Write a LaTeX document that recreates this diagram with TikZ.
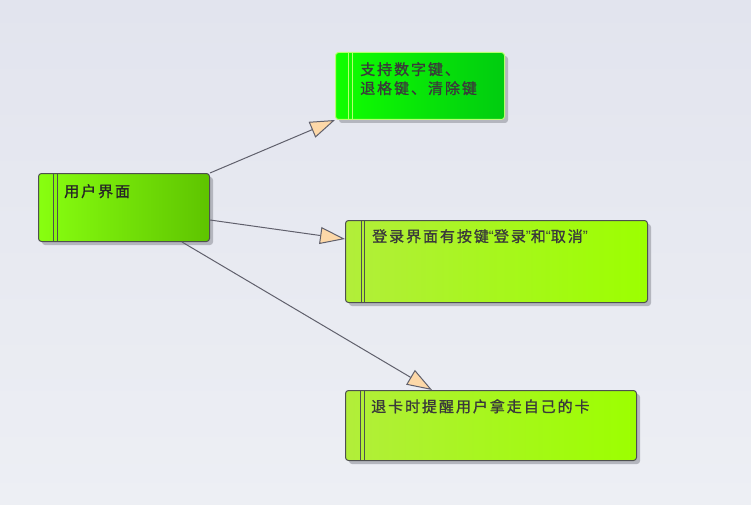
\documentclass[tikz,border=0pt]{standalone}
\usepackage{fontspec}
\newfontfamily\cjk[LetterSpace=13,FakeBold=1.2]{Noto Sans CJK SC}
\newfontfamily\latq[LetterSpace=20]{Liberation Sans}
\newcommand{\myLq}{{\latq “}}
\newcommand{\myRq}{{\latq ”}}
\usetikzlibrary{arrows.meta,shadows,calc}
\definecolor{bgtop}{HTML}{E2E4EE}
\definecolor{bgbot}{HTML}{EDEFF4}
\definecolor{aleft}{HTML}{88FF10}
\definecolor{aright}{HTML}{5EC400}
\definecolor{bleft}{HTML}{10FF00}
\definecolor{bright}{HTML}{00CC10}
\definecolor{bline}{HTML}{B8FF70}
\definecolor{cleft}{HTML}{B2EE3A}
\definecolor{cright}{HTML}{9CFF00}
\definecolor{edge}{HTML}{4E5050}
\definecolor{conncol}{HTML}{60606C}
\definecolor{peach}{HTML}{FDD8A8}
\definecolor{txt}{HTML}{3A3A3A}
\definecolor{shadowcol}{HTML}{B4B6BE}
\tikzset{
  box/.style={rectangle, rounded corners=3pt, line width=1pt, anchor=north west,
    drop shadow={shadow xshift=3.5pt, shadow yshift=-3.5pt, fill=shadowcol, opacity=1}},
  boxA/.style={box, draw=edge, left color=aleft, right color=aright},
  boxB/.style={box, draw=bline, left color=bleft, right color=bright},
  boxC/.style={box, draw=edge, left color=cleft, right color=cright},
  dline/.style={line width=1pt, draw=edge},
  dlineB/.style={line width=1pt, draw=bline},
  lbl/.style={anchor=north west, inner sep=0pt, font=\cjk\fontsize{15pt}{19pt}\selectfont, text=txt, align=left},
  conn/.style={draw=conncol, line width=1pt,
    -{Triangle[length=25pt,width=17pt,fill=peach,line width=1pt]}}
}
\begin{document}
\begin{tikzpicture}[x=1pt,y=-1pt]
\shade[top color=bgtop,bottom color=bgbot] (0,0) rectangle (751,505);
\useasboundingbox (0,0) rectangle (751,505);

\node[boxA, minimum width=171pt, minimum height=68pt] (a) at (38,173) {};
\node[boxB, minimum width=169pt, minimum height=67pt] (b) at (335,52) {};
\node[boxC, minimum width=302pt, minimum height=82pt] (c) at (345,220) {};
\node[boxC, minimum width=291pt, minimum height=70pt] (d) at (345,390) {};

\draw[dline] ($(a.north west)+(15,0)$) -- ($(a.south west)+(15,0)$);
\draw[dline] ($(a.north west)+(19,0)$) -- ($(a.south west)+(19,0)$);
\draw[dlineB] ($(b.north west)+(13.5,0)$) -- ($(b.south west)+(13.5,0)$);
\draw[dlineB] ($(b.north west)+(17.5,0)$) -- ($(b.south west)+(17.5,0)$);
\draw[dline] ($(c.north west)+(16,0)$) -- ($(c.south west)+(16,0)$);
\draw[dline] ($(c.north west)+(19.5,0)$) -- ($(c.south west)+(19.5,0)$);
\draw[dline] ($(d.north west)+(15.5,0)$) -- ($(d.south west)+(15.5,0)$);
\draw[dline] ($(d.north west)+(19.5,0)$) -- ($(d.south west)+(19.5,0)$);

\node[lbl, text=black!85] (ta) at ($(a.north west)+(26,11)$) {用户界面};
\node[lbl] (tb) at ($(b.north west)+(25,10)$) {支持数字键、\\退格键、清除键};
\node[lbl] (tc) at ($(c.north west)+(27,9)$) {登录界面有按键\myLq 登录\myRq 和\myLq 取消\myRq};
\node[lbl] (td) at ($(d.north west)+(26,9)$) {退卡时提醒用户拿走自己的卡};

\coordinate (s2) at ($(a.north east)+(0,47)$);
\coordinate (e2) at ($(c.north west)+(0,19)$);
\coordinate (s3) at ($(a.south east)+(-28,0)$);
\coordinate (e3) at ($(d.north west)+(87,0)$);

\draw[conn] (a.north east) -- (b.south west);
\draw[conn] (s2) -- (e2);
\draw[conn] (s3) -- (e3);
\end{tikzpicture}
\end{document}
